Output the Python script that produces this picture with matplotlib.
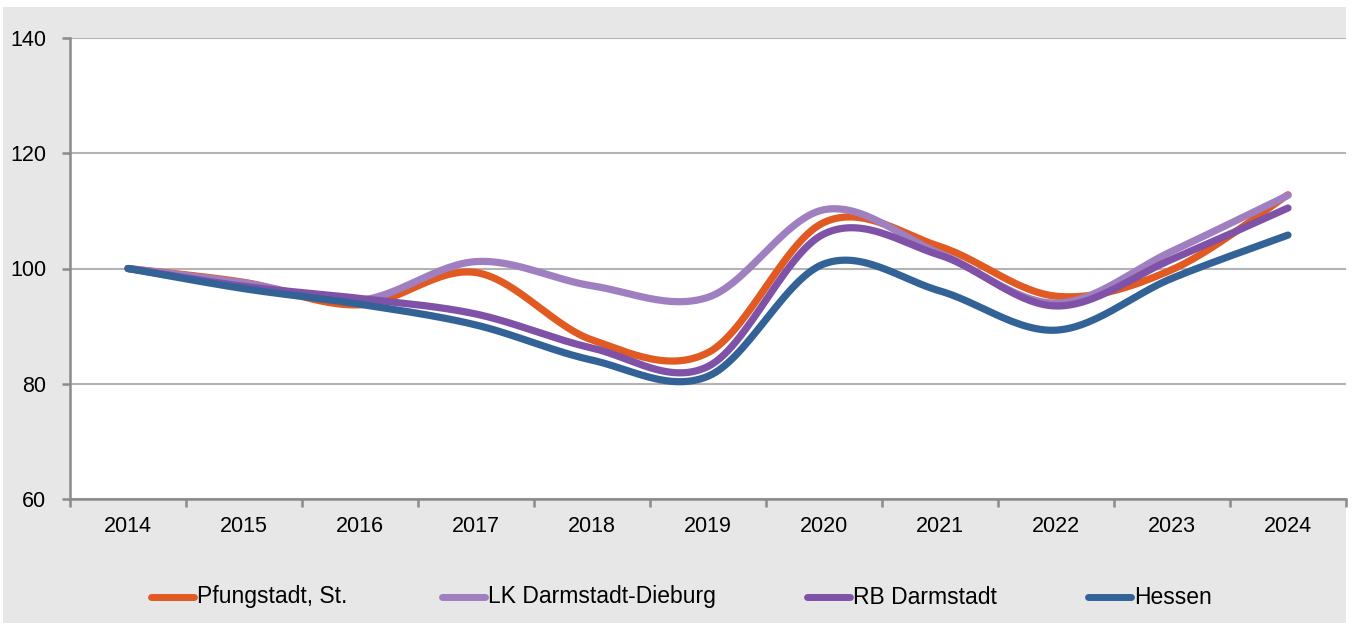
import numpy as np
import matplotlib
matplotlib.use("Agg")
import matplotlib.pyplot as plt
from matplotlib.lines import Line2D
from matplotlib.patches import Rectangle

years = ["2014", "2015", "2016", "2017", "2018", "2019", "2020", "2021", "2022", "2023", "2024"]
pfungstadt = [100, 97.6, 93.7, 99.3, 87.6, 85.4, 108.0, 103.8, 95.2, 99.8, 112.8]
lk_dadi = [100, 97.5, 94.5, 101.2, 97.0, 95.0, 110.2, 102.6, 94.0, 103.0, 112.7]
rb_da = [100, 96.9, 94.8, 92.1, 86.2, 83.0, 106.0, 102.3, 93.5, 101.6, 110.5]
hessen = [100, 96.5, 93.8, 90.2, 84.1, 81.3, 100.8, 96.1, 89.3, 98.3, 105.8]

series = [
    ("Pfungstadt, St.", pfungstadt, "#e05a22"),
    ("LK Darmstadt-Dieburg", lk_dadi, "#a07fc1"),
    ("RB Darmstadt", rb_da, "#7f52a8"),
    ("Hessen", hessen, "#336396"),
]

plt.rcParams["font.family"] = ["Liberation Sans", "DejaVu Sans"]


def smooth(x, y, n=30):
    x = np.asarray(x, float)
    y = np.asarray(y, float)
    P = np.column_stack([x, y])
    out = [P[0]]
    for i in range(len(P) - 1):
        p0 = P[i - 1] if i > 0 else P[i]
        p1 = P[i]
        p2 = P[i + 1]
        p3 = P[i + 2] if i + 2 < len(P) else P[i + 1]
        c1 = p1 + (p2 - p0) / 6.0
        c2 = p2 - (p3 - p1) / 6.0
        t = np.linspace(0, 1, n)[1:, None]
        seg = ((1 - t) ** 3) * p1 + 3 * ((1 - t) ** 2) * t * c1 + 3 * (1 - t) * t ** 2 * c2 + t ** 3 * p2
        out.extend(seg)
    out = np.array(out)
    return out[:, 0], out[:, 1]


W, H = 1354, 623
fig = plt.figure(figsize=(W / 100, H / 100), dpi=100)
fig.patch.set_facecolor("white")
fig.patches.append(Rectangle((3 / W, 0), (1346 - 3) / W, (H - 7) / H, transform=fig.transFigure,
                             facecolor="#e7e7e7", edgecolor="none", zorder=-10))

ax = fig.add_axes([70 / W, 1 - 499 / H, (1346 - 70) / W, (499 - 38) / H])
ax.set_facecolor("white")
x = np.arange(len(years))
for name, vals, col in series:
    sx, sy = smooth(x, vals)
    ax.plot(sx, sy, color=col, lw=5.2, solid_capstyle="round", solid_joinstyle="round", zorder=3)

ax.set_xlim(-0.5, len(years) - 0.5)
ax.set_ylim(60, 140)
ax.set_yticks([60, 80, 100, 120, 140])
ax.grid(axis="y", color="#b3b3b3", lw=1.5)
ax.set_axisbelow(True)
for s in ["top", "right"]:
    ax.spines[s].set_visible(False)
for s in ["left", "bottom"]:
    ax.spines[s].set_color("#8a8a8a")
    ax.spines[s].set_linewidth(1.8)

ax.set_xticks(np.arange(len(years) + 1) - 0.5)
ax.set_xticklabels([])
ax.set_xticks(x, minor=True)
ax.set_xticklabels(years, minor=True)
ax.tick_params(axis="x", which="major", length=6, width=1.8, color="#8a8a8a")
ax.tick_params(axis="x", which="minor", length=0, pad=12, labelsize=15.5)
ax.tick_params(axis="y", length=6, width=1.8, color="#8a8a8a", pad=11, labelsize=15.5)

# legend
leg_y = 1 - 597 / H
for (name, vals, col), hx in zip(series, [151, 442, 807, 1088]):
    fig.add_artist(Line2D([hx / W, (hx + 43) / W], [leg_y, leg_y], transform=fig.transFigure,
                          color=col, lw=5.0, solid_capstyle="round"))
    fig.text((hx + 46) / W, leg_y, name, fontsize=16.5, va="center", ha="left")

fig.savefig("out.png", dpi=100)
